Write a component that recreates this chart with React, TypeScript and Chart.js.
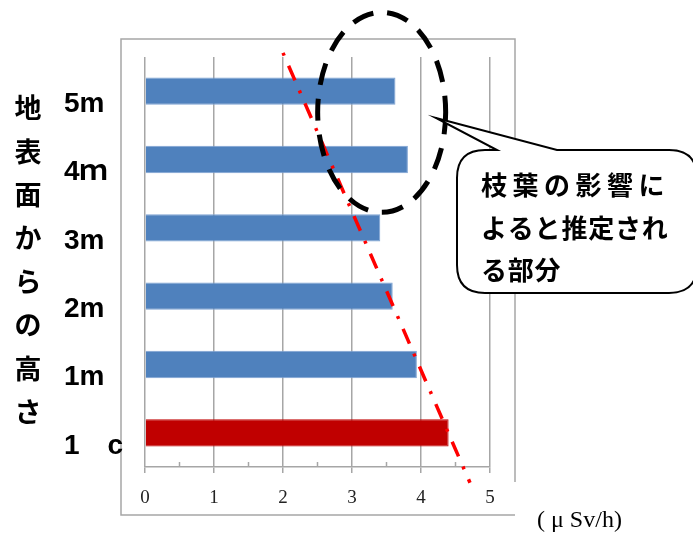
import React, { useEffect, useRef } from 'react';
import { Chart, registerables } from 'chart.js';

Chart.register(...registerables);

// ---- data ----
const categories = ['5m', '4ｍ', '3m', '2m', '1m', '1　c'];
const doseRates = [3.63, 3.81, 3.41, 3.59, 3.94, 4.4];
const barColors = ['#4F81BD', '#4F81BD', '#4F81BD', '#4F81BD', '#4F81BD', '#C00000'];
const barBorders = ['#7EA3D3', '#7EA3D3', '#7EA3D3', '#7EA3D3', '#7EA3D3', '#C00000'];
const axisMin = 0;
const axisMax = 5;
const axisStep = 1;
// red dash-dot trend line, in data units (x: μSv/h, y: category index)
const trendX = [2.0, 4.71];
const trendY = [-0.56, 5.73];
// dashed ellipse centre in data units
const ellipseCenterX = 3.43;
const ellipseCenterY = 0.31;
const titleChars = ['地', '表', '面', 'か', 'ら', 'の', '高', 'さ'];
const calloutLines = ['枝葉の影響に', 'よると推定され', 'る部分'];
const unitLabel = '( μ Sv/h)';

const overlayPlugin = {
  id: 'overlay',
  beforeDraw(chart: any) {
    const { ctx, chartArea: ca } = chart;
    ctx.save();
    ctx.fillStyle = '#ffffff';
    ctx.fillRect(0, 0, chart.width, chart.height);
    ctx.strokeStyle = '#A6A6A6';
    ctx.lineWidth = 1.5;
    const L = ca.left - 24;
    const T = ca.top - 18;
    const R = ca.right + 25;
    const B = ca.bottom + 48;
    ctx.beginPath();
    ctx.moveTo(R, B - 33);
    ctx.lineTo(R, T);
    ctx.lineTo(L, T);
    ctx.lineTo(L, B);
    ctx.lineTo(R, B);
    ctx.stroke();
    ctx.restore();
  },
  afterDraw(chart: any) {
    const { ctx, chartArea: ca } = chart;
    const xs = chart.scales.x;
    const ys = chart.scales.y;
    ctx.save();

    // minor ticks
    ctx.strokeStyle = '#A6A6A6';
    ctx.lineWidth = 1.5;
    for (let v = axisMin + axisStep / 2; v < axisMax; v += axisStep) {
      const px = xs.getPixelForValue(v);
      ctx.beginPath();
      ctx.moveTo(px, ca.bottom - 5);
      ctx.lineTo(px, ca.bottom);
      ctx.stroke();
    }

    // red dash-dot line
    ctx.strokeStyle = '#FF0000';
    ctx.lineWidth = 3.5;
    ctx.setLineDash([3, 11, 16, 11]);
    ctx.beginPath();
    ctx.moveTo(xs.getPixelForValue(trendX[0]), ys.getPixelForValue(trendY[0]));
    ctx.lineTo(xs.getPixelForValue(trendX[1]), ys.getPixelForValue(trendY[1]));
    ctx.stroke();

    // dashed ellipse
    ctx.strokeStyle = '#000000';
    ctx.lineWidth = 5;
    ctx.setLineDash([22, 14]);
    ctx.beginPath();
    ctx.ellipse(xs.getPixelForValue(ellipseCenterX), ys.getPixelForValue(ellipseCenterY), 64, 100, 0, 0, Math.PI * 2);
    ctx.stroke();
    ctx.setLineDash([]);

    // callout
    const cl = 457, ct = 150, cr = 697, cb = 293, rad = 28;
    ctx.fillStyle = '#ffffff';
    ctx.strokeStyle = '#000000';
    ctx.lineWidth = 2;
    ctx.beginPath();
    ctx.moveTo(cl + rad, ct);
    ctx.lineTo(497, ct);
    ctx.lineTo(436, 118);
    ctx.lineTo(557, ct);
    ctx.lineTo(cr - rad, ct);
    ctx.quadraticCurveTo(cr, ct, cr, ct + rad);
    ctx.lineTo(cr, cb - rad);
    ctx.quadraticCurveTo(cr, cb, cr - rad, cb);
    ctx.lineTo(cl + rad, cb);
    ctx.quadraticCurveTo(cl, cb, cl, cb - rad);
    ctx.lineTo(cl, ct + rad);
    ctx.quadraticCurveTo(cl, ct, cl + rad, ct);
    ctx.closePath();
    ctx.fill();
    ctx.stroke();

    ctx.fillStyle = '#000000';
    ctx.textAlign = 'left';
    ctx.textBaseline = 'middle';
    ctx.font = "bold 26px 'Noto Sans CJK JP'";
    const spacings = ['5.5px', '0.8px', '0.8px'];
    const lineYs = [185, 228, 270];
    calloutLines.forEach((line, i) => {
      (ctx as any).letterSpacing = spacings[i];
      ctx.fillText(line, 481, lineYs[i]);
    });
    (ctx as any).letterSpacing = '0px';

    // vertical axis title
    ctx.textAlign = 'center';
    ctx.font = "bold 27px 'Noto Sans CJK JP'";
    titleChars.forEach((ch, i) => {
      ctx.fillText(ch, 28, 108 + i * 43.4);
    });

    // unit label
    ctx.textAlign = 'left';
    ctx.font = "24px 'Liberation Serif', serif";
    ctx.fillText(unitLabel, 537, 521);

    ctx.restore();
  },
};

export default function App() {
  const canvasRef = useRef<HTMLCanvasElement | null>(null);

  useEffect(() => {
    if (!canvasRef.current) return;
    const chart = new Chart(canvasRef.current, {
      type: 'bar',
      data: {
        labels: categories,
        datasets: [
          {
            data: doseRates,
            backgroundColor: barColors,
            borderColor: barBorders,
            borderWidth: 1,
            barPercentage: 0.8,
            categoryPercentage: 0.5,
          },
        ],
      },
      options: {
        indexAxis: 'y',
        responsive: false,
        animation: false,
        devicePixelRatio: 1,
        layout: { padding: { left: 64, top: 57, right: 203, bottom: 27 } },
        plugins: { legend: { display: false }, tooltip: { enabled: false } },
        scales: {
          x: {
            type: 'linear',
            position: 'bottom',
            min: axisMin,
            max: axisMax,
            ticks: {
              stepSize: axisStep,
              font: { family: "'Liberation Serif', serif", size: 19 },
              color: '#222222',
              padding: 14,
            },
            grid: { color: '#A6A6A6', lineWidth: 1.5, tickLength: 6, drawTicks: true },
            border: { display: true, color: '#A6A6A6', width: 1.5 },
            afterFit: (s: any) => {
              s.height = 40;
            },
          },
          y: {
            type: 'category',
            ticks: {
              font: { family: "'Liberation Sans', 'Noto Sans CJK JP', sans-serif", size: 28, weight: 'bold' },
              color: '#000000',
              crossAlign: 'far',
              labelOffset: 13,
              autoSkip: false,
            },
            grid: { display: false },
            border: { display: false },
            afterFit: (s: any) => {
              s.width = 81;
            },
          },
        },
      } as any,
      plugins: [overlayPlugin],
    });
    return () => chart.destroy();
  }, []);

  return (
    <div style={{ position: 'absolute', left: 0, top: 0, width: 693, height: 534 }}>
      <canvas ref={canvasRef} width={693} height={534} style={{ display: 'block' }} />
    </div>
  );
}
